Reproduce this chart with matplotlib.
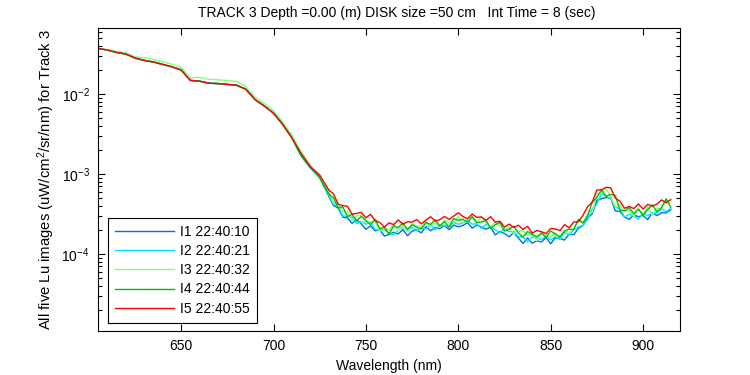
import numpy as np
import matplotlib.pyplot as plt
from matplotlib.ticker import LogLocator, FixedLocator, NullFormatter

plt.rcParams['font.family'] = ['Liberation Sans', 'DejaVu Sans']
plt.rcParams['mathtext.default'] = 'regular'

# wavelengths (nm): 5 nm steps on the smooth part, 2.5 nm on the noisy part
wl_smooth = np.arange(605, 726, 5)
wl_noisy = np.arange(730, 915.1, 2.5)
wavelength = np.concatenate([wl_smooth, wl_noisy])

# mean log10(Lu)
base_smooth = [-1.43, -1.45, -1.48, -1.50, -1.55, -1.58, -1.60, -1.63, -1.66, -1.70,
               -1.83, -1.84, -1.865, -1.87, -1.88, -1.89, -1.94, -2.07, -2.15, -2.24,
               -2.38, -2.55, -2.76, -2.91, -3.03]
base_noisy = [-3.25, -3.33, -3.41, -3.46, -3.50, -3.52, -3.54, -3.56, -3.58, -3.60,
              -3.63, -3.67, -3.68, -3.69, -3.68, -3.67, -3.66, -3.66, -3.65, -3.65,
              -3.64, -3.64, -3.63, -3.62, -3.62, -3.61, -3.60, -3.59, -3.58, -3.58,
              -3.575, -3.58, -3.59, -3.60, -3.61, -3.63, -3.65, -3.67, -3.68, -3.69,
              -3.70, -3.72, -3.74, -3.75, -3.77, -3.77, -3.77, -3.76, -3.76, -3.75,
              -3.74, -3.73, -3.72, -3.68, -3.63, -3.58, -3.52, -3.40, -3.28, -3.23,
              -3.23, -3.27, -3.35, -3.42, -3.46, -3.47, -3.48, -3.47, -3.47, -3.46,
              -3.45, -3.44, -3.42, -3.39, -3.40]
base = np.array(base_smooth + base_noisy)

# per-image deviation from the mean, in steps of 0.016 decade
dev_i1 = [0] * 22 + [-1, -1, -1] + [
    -2, -4, -1, -5, -3, -6, -2, -4, -7, -3, -5, -2, -6, -4, -3,
    -5, -2, -7, -4, -3, -6, -1, -5, -3, -4, -2, -6, -3, -5, -4,
    -2, -6, -3, -4, -5, -2, -7, -3, -4, -6, -2, -5, -8, -3, -6,
    -4, -5, -2, -7, -3, -4, -6, -2, -5, -3, -4, -2, -6, -3, -5,
    -4, -2, -7, -3, -5, -6, -2, -4, -3, -7, -2, -5, -4, -6, -3]
dev_i2 = [0] * 22 + [-1, 0, -1] + [
    -1, -3, 0, -4, -2, -1, -5, -2, -3, 0, -4, -2, -1, -3, -5,
    -2, 0, -3, -1, -4, -2, -3, 0, -5, -1, -2, -4, -1, -3, -2,
    0, -3, -2, -5, -1, -2, -3, -4, 0, -2, -1, -4, -3, -6, -1,
    -2, -3, -1, -4, -2, -5, 0, -3, -1, -2, -4, -3, -2, -6, -1,
    -3, -2, -4, -1, -5, -2, -3, -6, -1, -4, -2, -3, -1, -5, -2]
dev_i3 = [0, 0, 1, 1, 1, 2, 2, 2, 2, 2, 2, 3, 3, 3, 3, 3, 2, 2, 2, 2, 2, 2, 2, 1, 1] + [
    1, -2, 3, -1, 2, -4, 1, 3, -2, 0, 2, -3, 1, -1, 3,
    -2, 1, -4, 2, 0, -1, 3, -2, 1, -3, 2, 0, -1, 3, -2,
    1, 2, -1, 4, 0, -2, 3, 1, -1, 2, -3, 0, 2, -1, 1,
    -4, 2, 0, -2, 1, -3, 2, -1, 0, 3, -2, 1, -5, 2, 0,
    3, -1, -4, 2, 0, 1, -3, 2, -2, 3, -4, 1, -1, 4, 2]
dev_i4 = [0] * 22 + [-1, 0, -1] + [
    0, 2, -1, 3, -2, 1, -3, 2, 0, -2, 4, -1, 1, -4, 2,
    0, 3, -2, 1, -1, -3, 2, 0, 3, -2, 1, -4, 2, 0, 1,
    -2, 3, -1, 0, 2, -3, 1, 4, -2, 0, 3, -1, -3, 2, 1,
    -1, 2, -2, 3, 0, -3, 1, 2, -1, 4, -2, 0, 3, -1, 2,
    -3, 1, 5, -2, 0, 3, -1, 2, -3, 1, 4, -2, 0, 5, -1]
dev_i5 = [0] * 22 + [1, 0, 1] + [
    3, 5, 2, 4, 6, 1, 3, 5, 2, 6, 3, 4, 1, 5, 3,
    6, 2, 4, 3, 5, 1, 4, 6, 2, 3, 5, 2, 4, 6, 3,
    1, 5, 3, 4, 2, 6, 3, 5, 1, 4, 2, 5, 3, 6, 2,
    4, 3, 1, 5, 4, 2, 6, 3, 5, 2, 4, 7, 3, 5, 2,
    4, 6, 3, 5, 2, 4, 3, 6, 2, 5, 3, 4, 6, 2, 5]

labels = ['I1 22:40:10', 'I2 22:40:21', 'I3 22:40:32', 'I4 22:40:44', 'I5 22:40:55']
colors = ['#0070e0', '#00e5ff', '#80ff80', '#00c000', '#ff0000']
devs = [dev_i1, dev_i2, dev_i3, dev_i4, dev_i5]

fig = plt.figure(figsize=(7.5, 3.75), dpi=100)
ax = fig.add_axes([98 / 750, 1 - 331 / 375, 582 / 750, 303 / 375])

for lab, col, d in zip(labels, colors, devs):
    lu = 10 ** (base + np.array(d) * 0.016)
    ax.plot(wavelength, lu, color=col, lw=1.0, label=lab)

ax.set_yscale('log')
ax.set_xlim(605, 920)
ax.set_ylim(10 ** -4.9625, 10 ** -1.175)
ax.yaxis.set_major_locator(FixedLocator([1e-4, 1e-3, 1e-2]))
ax.yaxis.set_minor_locator(LogLocator(base=10, subs=np.arange(2, 10), numticks=20))
ax.yaxis.set_minor_formatter(NullFormatter())
ax.set_yticklabels(['$10^{-4}$', '$10^{-3}$', '$10^{-2}$'])
ax.set_xticks([650, 700, 750, 800, 850, 900])

ax.tick_params(which='both', direction='in', top=True, right=True, labelsize=10, width=0.8)
ax.tick_params(which='major', length=5, pad=6)
ax.tick_params(which='minor', length=3)
for s in ax.spines.values():
    s.set_linewidth(0.8)

ax.set_xlabel('Wavelength (nm)', fontsize=10, labelpad=4)
ax.set_ylabel('All five Lu images (uW/cm$^2$/sr/nm) for Track 3', fontsize=10.7, labelpad=3)
fig.text(397 / 750, 1 - 13 / 375, 'TRACK 3 Depth =0.00 (m) DISK size =50 cm   Int Time = 8 (sec)',
         ha='center', va='center', fontsize=10)

leg = ax.legend(loc='lower left', bbox_to_anchor=(0.0177, 0.0274), borderaxespad=0,
                fontsize=10, fancybox=False, edgecolor='black', framealpha=1,
                handlelength=4.2, handletextpad=0.45, labelspacing=0.38, borderpad=0.5)
leg.get_frame().set_linewidth(0.8)

fig.savefig('out.png', dpi=100)
